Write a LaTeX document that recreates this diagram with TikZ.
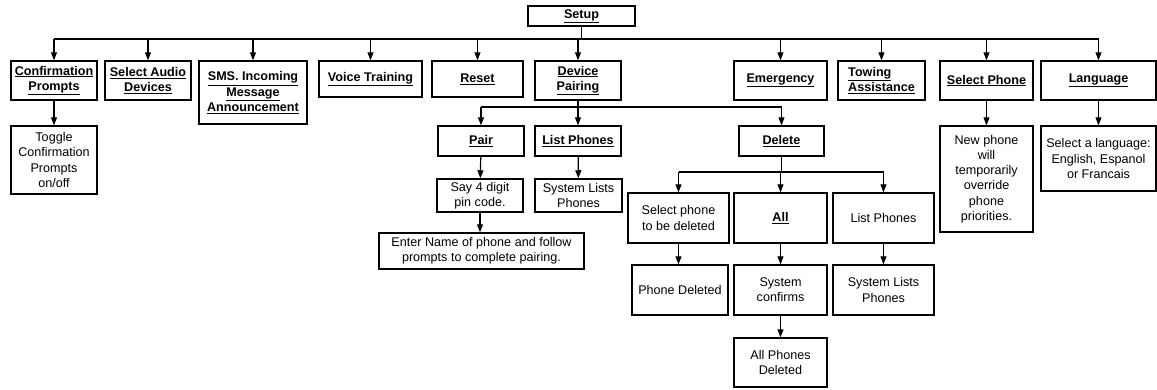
\documentclass[tikz,border=0pt]{standalone}
\usepackage{fontspec}
\setmainfont{Liberation Sans}
\usetikzlibrary{arrows.meta}
\newcommand\hd[1]{\underline{#1}}

\begin{document}
\begin{tikzpicture}[x=1pt,y=-1pt,
 box/.style={draw,line width=1.5pt,align=center,inner sep=1pt,font=\fontsize{12.6}{15.2}\selectfont},
 head/.style={box,font=\fontsize{12.6}{15.2}\selectfont\bfseries},
 ln/.style={line width=1.2pt},
 arr/.style={ln,-{Triangle[length=8pt,width=6pt]}}
]
\useasboundingbox (0,0) rectangle (1157,389);
\coordinate (top) at (0,39);
\coordinate (mid) at (0,107);
\coordinate (low) at (0,172);

\node[head,minimum width=107,minimum height=20] (setup) at (581.5,16) {\hd{Setup}};
\node[head,minimum width=86,minimum height=39] (cp) at (54,80.5) {\hd{Confirmation}\\\hd{Prompts}};
\node[head,minimum width=86,minimum height=39] (sad) at (148,80.5) {\hd{Select Audio}\\\hd{Devices}};
\node[head,minimum width=108,minimum height=63] (sms) at (253,92.5) {\hd{SMS. Incoming}\\\hd{Message}\\\hd{Announcement}};
\node[head,minimum width=103,minimum height=36] (vt) at (370.5,79) {\hd{Voice Training}};
\node[head,minimum width=91,minimum height=36] (rst) at (477.5,79) {\hd{Reset}};
\node[head,minimum width=86,minimum height=39] (dp) at (578,80.5) {\hd{Device}\\\hd{Pairing}};
\node[head,minimum width=93,minimum height=39] (emg) at (780.5,80.5) {\hd{Emergency}};
\node[head,minimum width=87,minimum height=39,align=left] (tow) at (881.5,80.5) {\hd{Towing}\\\hd{Assistance}};
\node[head,minimum width=93,minimum height=39] (sph) at (986.5,80.5) {\hd{Select Phone}};
\node[head,minimum width=115,minimum height=39] (lang) at (1098.5,80.5) {\hd{Language}};

\node[box,minimum width=86,minimum height=68] (tog) at (54,160) {Toggle\\Confirmation\\Prompts\\on/off};
\node[head,minimum width=86,minimum height=30] (pair) at (481,141) {\hd{Pair}};
\node[head,minimum width=86,minimum height=30] (lp) at (578,141) {\hd{List Phones}};
\node[head,minimum width=85,minimum height=30] (del) at (781.5,141) {\hd{Delete}};
\node[box,minimum width=93,minimum height=106] (newph) at (986.5,179) {New phone\\will\\temporarily\\override\\phone\\priorities.};
\node[box,minimum width=115,minimum height=65] (sel) at (1098.5,158.5) {Select a language:\\English, Espanol\\or Francais};

\node[box,minimum width=86,minimum height=33] (pin) at (480,195.5) {Say 4 digit\\pin code.};
\node[box,minimum width=87,minimum height=33] (sysa) at (578.5,195.5) {System Lists\\Phones};
\node[box,minimum width=205,minimum height=36] (name) at (481.5,251) {Enter Name of phone and follow\\prompts to complete pairing.};
\node[box,minimum width=101,minimum height=50] (selph) at (678.5,218) {Select phone\\to be deleted};
\node[head,minimum width=93,minimum height=50] (all) at (780.5,218) {\hd{All}};
\node[box,minimum width=101,minimum height=50] (lpb) at (883.5,218) {List Phones};
\node[box,minimum width=96,minimum height=50] (phdel) at (680,290) {Phone Deleted};
\node[box,minimum width=93,minimum height=50] (conf) at (780.5,290) {System\\confirms};
\node[box,minimum width=101,minimum height=50] (sysb) at (883.5,290) {System Lists\\Phones};
\node[box,minimum width=93,minimum height=49] (alldel) at (780.5,362.5) {All Phones\\Deleted};

\draw[ln] (setup.south) -- (setup.south |- top);
\draw[ln] (cp.north |- top) -- (lang.north |- top);
\foreach \n in {cp,sad,sms,vt,rst,dp,emg,tow,sph,lang}
  \draw[arr] (\n.north |- top) -- (\n.north);

\draw[ln] (dp.south) -- (dp.south |- mid);
\draw[ln] (pair.north |- mid) -- (del.north |- mid);
\foreach \n in {pair,lp,del}
  \draw[arr] (\n.north |- mid) -- (\n.north);

\draw[ln] (del.south) -- (del.south |- low);
\draw[ln] (selph.north |- low) -- (lpb.north |- low);
\foreach \n in {selph,all,lpb}
  \draw[arr] (\n.north |- low) -- (\n.north);

\draw[arr] (cp) -- (tog);
\draw[arr] (sph) -- (newph);
\draw[arr] (lang) -- (sel);
\draw[arr] (pair) -- (pin);
\draw[arr] (lp) -- (sysa);
\draw[arr] (pin.south) -- (pin.south |- name.north);
\draw[arr] (selph.south) -- (selph.south |- phdel.north);
\draw[arr] (all) -- (conf);
\draw[arr] (conf) -- (alldel);
\draw[arr] (lpb) -- (sysb);
\end{tikzpicture}
\end{document}
